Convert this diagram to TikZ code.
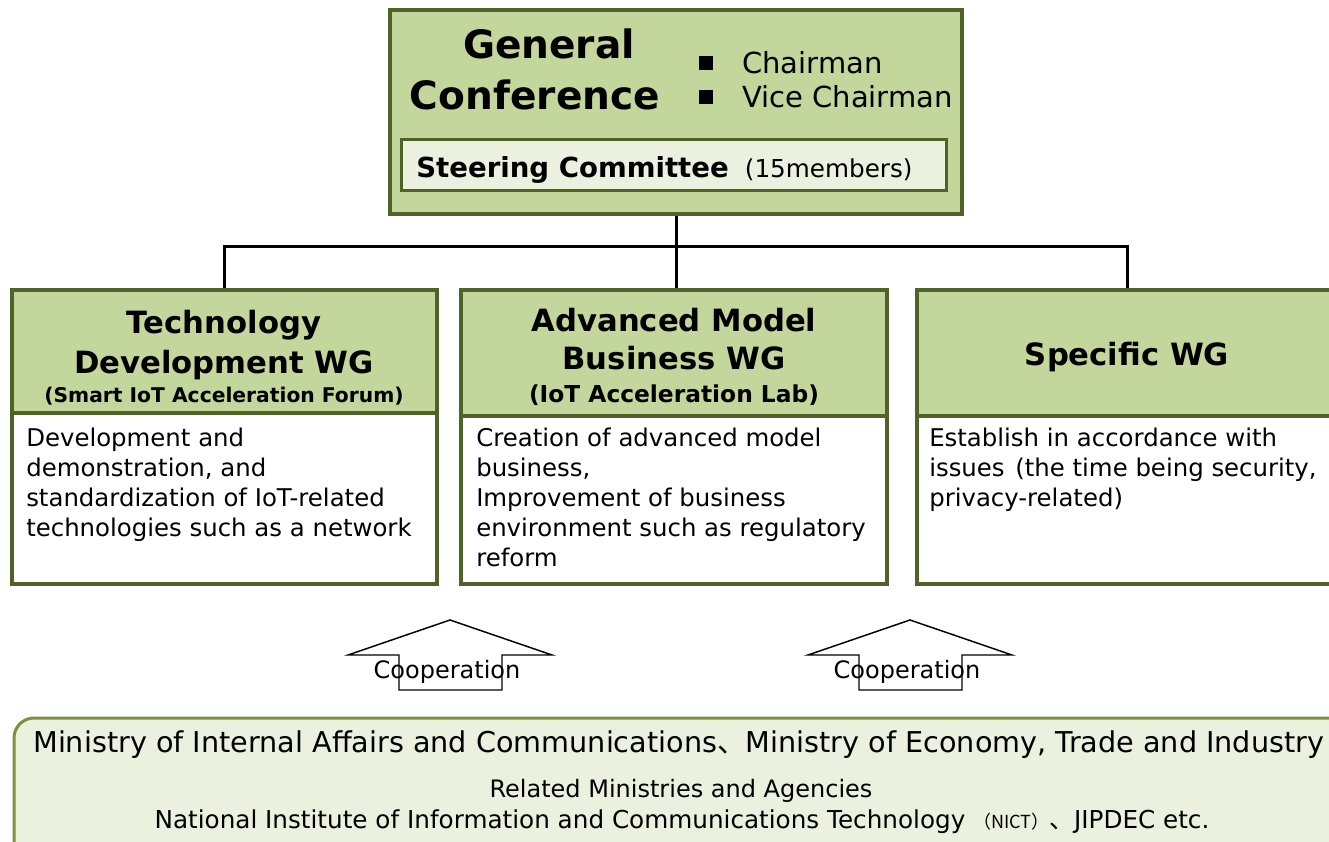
\documentclass[tikz,border=0pt]{standalone}
\usepackage{fontspec}
\setmainfont{DejaVu Sans}
\newfontfamily\cjk{Noto Sans CJK JP}
\usetikzlibrary{fit}
\definecolor{bordergreen}{HTML}{4F6228}
\definecolor{hdrgreen}{HTML}{C3D69B}
\definecolor{palegreen}{HTML}{EBF1DE}
\definecolor{lowgreen}{HTML}{77933C}
\newcommand\fsz[2]{\fontsize{#1}{#2}\selectfont}
\begin{document}
\begin{tikzpicture}[x=0.75pt,y=-0.75pt,
  boxbase/.style={draw=bordergreen, line width=3pt, inner sep=0pt},
  hdrbox/.style={boxbase, fill=hdrgreen},
  bodybox/.style={boxbase, fill=white},
  scbox/.style={draw=bordergreen, line width=2.25pt, fill=palegreen, inner sep=0pt},
  lowbox/.style={draw=lowgreen, line width=2.25pt, fill=palegreen, rounded corners=15pt, inner sep=0pt},
  conn/.style={draw=black, line width=2.25pt},
  arrowshape/.style={draw=black, line width=1.1pt},
  txt/.style={inner sep=0pt, anchor=base},
  titlefont/.style={font=\fsz{29.3}{37}\bfseries},
  wgfont/.style={font=\fsz{23}{30}\bfseries},
  bodytxt/.style={inner sep=0pt, anchor=north west, align=left, font=\fsz{18.3}{22.5}},
  coopfont/.style={font=\fsz{18}{22}}]
\useasboundingbox (0,0) rectangle (1329,842);
\fill[white] (0,0) rectangle (1329,842);

% connectors junction
\coordinate (j) at (676,246);

% top box
\node[hdrbox, fit={(390,10) (962,214)}] (gc) {};
\node[scbox, fit={(401,140) (946,190)}] (sc) {};
\node[txt, titlefont] (gct1) at (549,59) {General};
\node[txt, titlefont] (gct2) at (535,109) {Conference};
\fill (699,56) rectangle (713,70);
\fill (699,90) rectangle (713,104);
\node[txt, anchor=base west, font=\fsz{21.75}{26}] (ch1) at (742,74) {Chairman};
\node[txt, anchor=base west, font=\fsz{21.75}{26}] (ch2) at (742,108) {Vice Chairman};
\node[txt, anchor=base west] (sct) at (416,177) {{\fsz{20.7}{24}\bfseries Steering Committee}\hspace{12pt}{\fsz{18.5}{22}(15members)}};

% WG boxes
\node[hdrbox, fit={(12,290) (437,413)}] (wg1h) {};
\node[bodybox, fit={(12,413) (437,584)}] (wg1b) {};
\node[hdrbox, fit={(461,290) (887,416)}] (wg2h) {};
\node[bodybox, fit={(461,416) (887,584)}] (wg2b) {};
\node[hdrbox, fit={(917,290) (1337,416)}] (wg3h) {};
\node[bodybox, fit={(917,416) (1337,584)}] (wg3b) {};

% connectors
\draw[conn] (gc.south) -- (gc.south |- wg2h.north);
\draw[conn] (wg1h.north) |- (j) -| (wg3h.north);

% WG titles
\node[txt, wgfont] (t1a) at (224,333) {Technology};
\node[txt, wgfont] (t1b) at (224,373) {Development WG};
\node[txt, font=\fsz{15.2}{18}\bfseries] (t1c) at (224,402) {(Smart IoT Acceleration Forum)};
\node[txt, wgfont] (t2a) at (674,331) {Advanced Model};
\node[txt, wgfont] (t2b) at (674,369) {Business WG};
\node[txt, font=\fsz{17.5}{20}\bfseries] (t2c) at (674,402) {(IoT Acceleration Lab)};
\node[txt, wgfont] (t3a) at (1127,365) {Specific WG};

% WG bodies
\node[bodytxt] (b1) at (26,428) {Development and\\demonstration, and\\standardization of IoT-related\\technologies such as a network};
\node[bodytxt] (b2) at (476,428) {Creation of advanced model\\business,\\Improvement of business\\environment such as regulatory\\reform};
\node[bodytxt] (b3) at (929,428) {Establish in accordance with\\issues\hspace{8pt}(the time being security,\\privacy-related)};

% cooperation arrows
\draw[arrowshape] (450,620) -- (552,655) -- (502,655) -- (502,690) -- (399,690) -- (399,655) -- (348,655) -- cycle;
\node[txt, coopfont] (coop1) at (447,678) {Cooperation};
\draw[arrowshape] (910,620) -- (1012,655) -- (962,655) -- (962,690) -- (859,690) -- (859,655) -- (808,655) -- cycle;
\node[txt, coopfont] (coop2) at (907,678) {Cooperation};

% bottom box
\node[lowbox, fit={(14,718) (1365,880)}] (low) {};
\node[txt, anchor=base west, font=\fsz{21.5}{26}] (l1) at (33,752) {Ministry of Internal Affairs and Communications{\cjk 、}Ministry of Economy, Trade and Industry};
\node[txt, font=\fsz{18}{22}] (l2) at (681,797) {Related Ministries and Agencies};
\node[txt, font=\fsz{18.5}{22}] (l3) at (682,828) {National Institute of Information and Communications Technology\hspace{6pt}{\cjk\fsz{13.5}{14}（NICT）}{\cjk 、}JIPDEC etc.};
\end{tikzpicture}
\end{document}
